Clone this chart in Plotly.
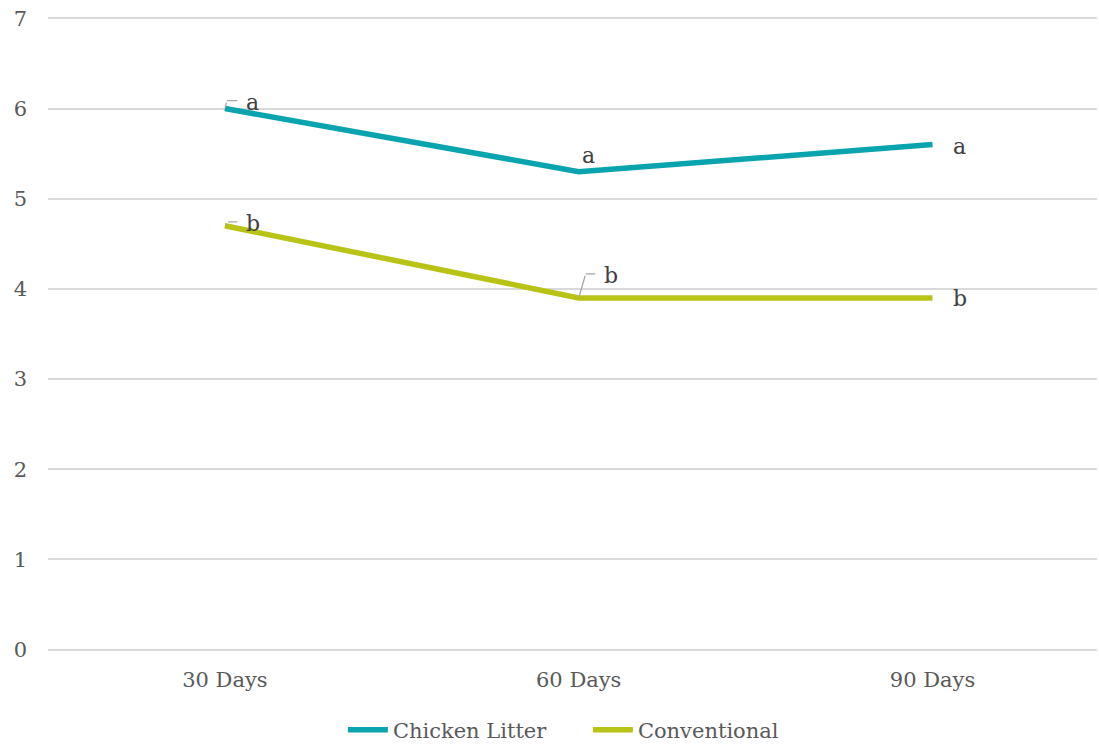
import plotly.graph_objects as go

categories = ["30 Days", "60 Days", "90 Days"]
chicken_litter = [6.0, 5.3, 5.6]
conventional = [4.7, 3.9, 3.9]
chicken_letters = ["a", "a", "a"]
conventional_letters = ["b", "b", "b"]

teal = "#0aa4ae"
olive = "#b9c316"
font_family = "DejaVu Serif"
label_color = "#404040"
leader_color = "#a6a6a6"

fig = go.Figure()
fig.add_trace(go.Scatter(x=categories, y=chicken_litter, mode="lines", name="Chicken Litter",
                         line=dict(color=teal, width=5.5)))
fig.add_trace(go.Scatter(x=categories, y=conventional, mode="lines", name="Conventional",
                         line=dict(color=olive, width=5.5)))

# label placement in pixels relative to the point: (dx, dy_up, leader elbow or None)
chicken_pos = [(28, 6, (2, 8, 12)), (10, 16, None), (27, -2, None)]
conv_pos = [(28, 2, (3, 4, 11)), (32, 22, (7, 24, 11)), (28, -1, None)]

annotations = []
tiny = dict(size=1, color="rgba(0,0,0,0)")
for series, letters, pos in [(chicken_litter, chicken_letters, chicken_pos),
                             (conventional, conventional_letters, conv_pos)]:
    for cat, val, letter, (dx, dy, leader) in zip(categories, series, letters, pos):
        annotations.append(dict(x=cat, y=val, xref="x", yref="y", text=letter,
                                showarrow=False, xshift=dx, yshift=dy,
                                font=dict(family=font_family, size=22, color=label_color)))
        if leader:
            ex, ey, hl = leader
            annotations.append(dict(x=cat, y=val, xref="x", yref="y", text=" ", font=tiny,
                                    showarrow=True, arrowhead=0, arrowwidth=1.3,
                                    arrowcolor=leader_color, ax=ex, ay=-ey, standoff=1))
            annotations.append(dict(x=cat, y=val, xref="x", yref="y", text=" ", font=tiny,
                                    xshift=ex, yshift=ey,
                                    showarrow=True, arrowhead=0, arrowwidth=1.3,
                                    arrowcolor=leader_color, ax=hl, ay=0, standoff=0))

fig.update_layout(
    width=1099, height=745,
    margin=dict(l=48, r=2, t=17, b=94),
    paper_bgcolor="white", plot_bgcolor="white",
    font=dict(family=font_family, size=21, color="#595959"),
    xaxis=dict(type="category", range=[-0.5, 2.465], showgrid=False, zeroline=False,
               showline=False, ticks="", automargin=False, ticklabelstandoff=14,
               tickfont=dict(size=21, color="#595959")),
    yaxis=dict(range=[-0.015, 7.015], dtick=1, showgrid=True, gridcolor="#d9d9d9", gridwidth=1.6,
               zeroline=False, showline=False, ticks="", automargin=False,
               ticklabelstandoff=20,
               tickfont=dict(size=21, color="#595959")),
    legend=dict(orientation="h", x=0.312, xanchor="left", xref="container",
                y=0.02, yanchor="middle", yref="container",
                entrywidth=190, entrywidthmode="pixels",
                font=dict(size=21, color="#595959"), itemwidth=40),
    annotations=annotations,
    showlegend=True,
)

fig.write_html("out.html", config={"displayModeBar": False},
               post_script="document.body.style.margin='0';document.body.style.overflow='hidden';")
